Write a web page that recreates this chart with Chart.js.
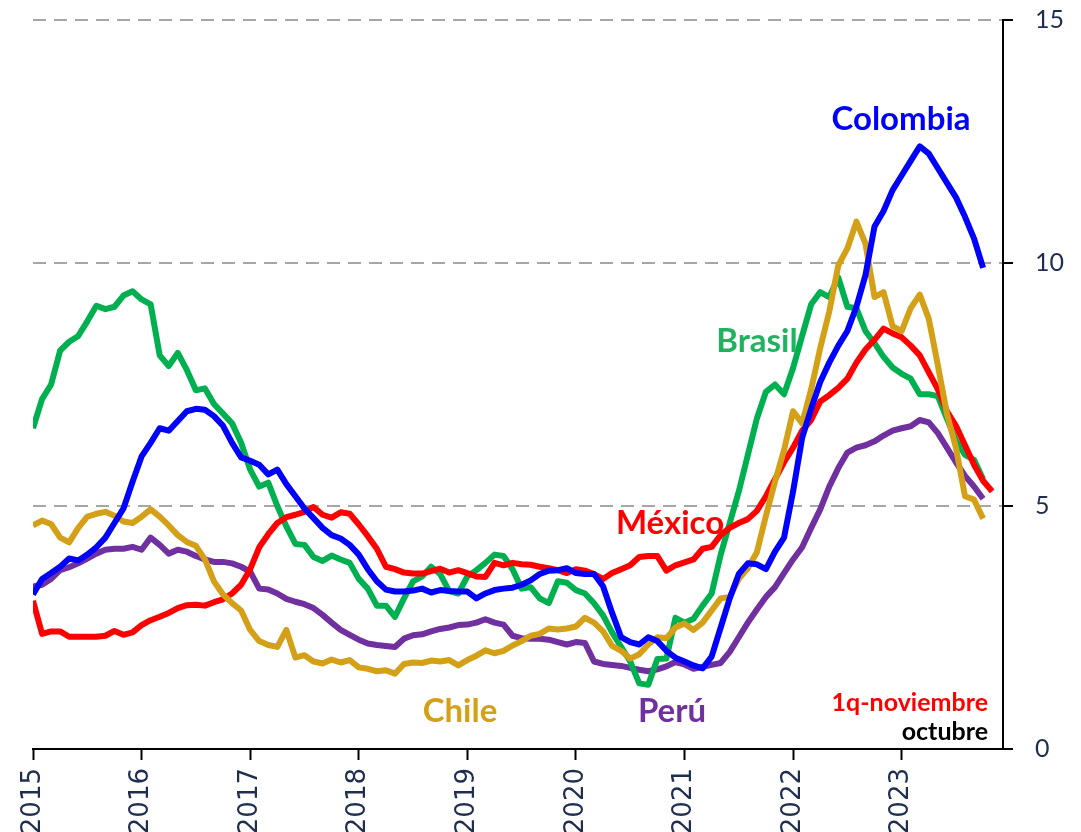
<!DOCTYPE html>
<html>
<head>
<meta charset="utf-8">
<script src="https://cdn.jsdelivr.net/npm/chart.js@4.4.0/dist/chart.umd.min.js"></script>
<style>
  body { margin: 0; background: #fff; }
  #wrap { width: 1081px; height: 832px; position: relative; overflow: hidden; }
</style>
</head>
<body>
<div id="wrap"><canvas id="chart"></canvas></div>
<script>
// monthly values, Jan 2015 onwards (index 0 = Jan 2015)
const colombia = [3.18,3.5,3.62,3.75,3.92,3.88,4.0,4.15,4.35,4.65,
  4.95,5.5,6.02,6.3,6.6,6.55,6.75,6.95,7.0,6.98,
  6.85,6.65,6.3,6.0,5.93,5.85,5.65,5.75,5.45,5.2,
  4.95,4.75,4.55,4.4,4.33,4.2,4.0,3.7,3.45,3.28,
  3.24,3.24,3.26,3.3,3.22,3.27,3.25,3.24,3.24,3.1,
  3.2,3.27,3.3,3.32,3.38,3.47,3.6,3.67,3.68,3.72,
  3.62,3.6,3.6,3.35,2.8,2.3,2.2,2.15,2.3,2.22,
  2.02,1.88,1.8,1.72,1.66,1.9,2.5,3.1,3.6,3.82,
  3.8,3.7,4.06,4.35,5.3,6.4,7.0,7.55,7.95,8.3,
  8.6,9.1,9.75,10.75,11.07,11.5,11.8,12.1,12.4,12.25,
  11.95,11.65,11.35,10.95,10.5,9.9];

const brasil = [6.6,7.2,7.5,8.2,8.38,8.5,8.8,9.12,9.05,9.1,
  9.33,9.42,9.25,9.15,8.1,7.88,8.15,7.8,7.38,7.42,
  7.1,6.9,6.7,6.3,5.75,5.4,5.48,5.0,4.58,4.22,
  4.2,3.95,3.87,3.98,3.9,3.83,3.5,3.3,2.95,2.95,
  2.72,3.1,3.45,3.55,3.75,3.6,3.25,3.2,3.55,3.68,
  3.83,4.0,3.97,3.7,3.3,3.33,3.1,3.0,3.45,3.42,
  3.27,3.2,3.0,2.75,2.4,2.1,1.8,1.35,1.32,1.85,
  1.86,2.7,2.6,2.68,2.95,3.2,4.0,4.65,5.3,6.05,
  6.8,7.35,7.5,7.3,7.84,8.5,9.15,9.4,9.3,9.7,
  9.1,9.07,8.6,8.35,8.07,7.85,7.72,7.62,7.3,7.3,
  7.26,6.8,6.35,6.05,5.95,5.55];

// México runs one more month (1q-noviembre)
const mexico = [3.05,2.37,2.42,2.42,2.31,2.31,2.31,2.31,2.33,2.43,
  2.35,2.4,2.55,2.65,2.72,2.8,2.9,2.96,2.97,2.95,
  3.02,3.08,3.2,3.38,3.7,4.15,4.42,4.65,4.77,4.82,
  4.88,4.98,4.82,4.76,4.87,4.84,4.62,4.38,4.12,3.75,
  3.7,3.63,3.61,3.61,3.66,3.71,3.63,3.68,3.62,3.55,
  3.54,3.83,3.78,3.83,3.8,3.79,3.75,3.72,3.68,3.62,
  3.7,3.67,3.6,3.5,3.62,3.7,3.78,3.95,3.97,3.97,
  3.67,3.78,3.84,3.9,4.12,4.16,4.4,4.55,4.65,4.73,
  4.9,5.2,5.55,5.9,6.2,6.55,6.77,7.15,7.28,7.43,
  7.62,7.95,8.22,8.42,8.65,8.55,8.47,8.3,8.1,7.75,
  7.4,6.95,6.65,6.25,5.85,5.52,5.3];

const chile = [4.6,4.7,4.63,4.35,4.25,4.55,4.78,4.84,4.88,4.8,
  4.68,4.65,4.78,4.93,4.78,4.6,4.4,4.26,4.18,3.9,
  3.45,3.18,3.0,2.85,2.45,2.22,2.14,2.1,2.45,1.88,
  1.93,1.8,1.76,1.84,1.78,1.83,1.68,1.65,1.6,1.62,
  1.55,1.75,1.78,1.77,1.82,1.8,1.83,1.72,1.83,1.92,
  2.03,1.97,2.02,2.13,2.22,2.33,2.37,2.48,2.46,2.48,
  2.52,2.7,2.6,2.42,2.12,2.02,1.86,1.95,2.15,2.3,
  2.28,2.5,2.58,2.45,2.6,2.85,3.1,3.13,3.5,3.72,
  4.05,4.8,5.5,6.15,6.95,6.7,7.4,8.25,9.0,9.95,
  10.3,10.85,10.4,9.3,9.4,8.7,8.6,9.07,9.35,8.85,
  7.9,6.9,6.2,5.2,5.13,4.74];

const peru = [3.34,3.38,3.5,3.68,3.74,3.82,3.92,4.02,4.1,4.12,
  4.12,4.16,4.1,4.35,4.2,4.02,4.1,4.06,3.97,3.9,
  3.85,3.85,3.82,3.75,3.65,3.3,3.28,3.2,3.09,3.03,
  2.98,2.9,2.76,2.6,2.45,2.35,2.25,2.17,2.14,2.12,
  2.1,2.27,2.34,2.36,2.42,2.47,2.5,2.55,2.56,2.6,
  2.67,2.6,2.56,2.33,2.28,2.27,2.27,2.25,2.2,2.15,
  2.2,2.18,1.8,1.75,1.73,1.71,1.67,1.63,1.6,1.64,
  1.7,1.79,1.74,1.65,1.69,1.73,1.77,2.0,2.3,2.6,
  2.87,3.13,3.33,3.62,3.9,4.15,4.55,4.93,5.4,5.78,
  6.1,6.2,6.25,6.33,6.45,6.55,6.6,6.64,6.77,6.72,
  6.5,6.2,5.9,5.62,5.4,5.15];

const startYear = 2015;
const yearTicks = [0, 12, 24, 36, 48, 60, 72, 84, 96];
const yTicks = [0, 5, 10, 15];

const navy = '#1F2D4E';

function toPoints(values) {
  return values.map((v, i) => ({ x: i, y: v }));
}

function line(label, values, color) {
  return {
    label: label,
    data: toPoints(values),
    borderColor: color,
    backgroundColor: color,
    borderWidth: 6,
    pointRadius: 0,
    tension: 0,
    borderJoinStyle: 'round',
    fill: false
  };
}

// series names written inside the plot
const seriesLabels = {
  id: 'seriesLabels',
  afterDatasetsDraw(chart) {
    const ctx = chart.ctx;
    const items = [
      { text: 'Colombia', x: 901, y: 130, color: '#0000FF', size: 33, align: 'center' },
      { text: 'Brasil', x: 757, y: 352, color: '#1FB35F', size: 33, align: 'center' },
      { text: 'México', x: 670, y: 534, color: '#FF0000', size: 33, align: 'center' },
      { text: 'Chile', x: 460, y: 722, color: '#D4A017', size: 33, align: 'center' },
      { text: 'Perú', x: 672, y: 722, color: '#7030A0', size: 33, align: 'center' },
      { text: '1q-noviembre', x: 988, y: 711, color: '#FF0000', size: 25, align: 'right' },
      { text: 'octubre', x: 988, y: 740, color: '#000000', size: 25, align: 'right' }
    ];
    ctx.save();
    items.forEach((it) => {
      ctx.font = 'bold ' + it.size + 'px Lato';
      ctx.fillStyle = it.color;
      ctx.textAlign = it.align;
      ctx.textBaseline = 'alphabetic';
      ctx.fillText(it.text, it.x, it.y);
    });
    ctx.restore();
  }
};

new Chart(document.getElementById('chart'), {
  type: 'line',
  data: {
    datasets: [
      line('Colombia', colombia, '#0000FF'),
      line('Chile', chile, '#D4A017'),
      line('México', mexico, '#FF0000'),
      line('Brasil', brasil, '#00B050'),
      line('Perú', peru, '#7030A0')
    ]
  },
  options: {
    responsive: true,
    maintainAspectRatio: false,
    devicePixelRatio: 1,
    animation: false,
    layout: { padding: { left: 33, top: 20, right: 0, bottom: 0 } },
    plugins: {
      legend: { display: false },
      tooltip: { enabled: false }
    },
    scales: {
      x: {
        type: 'linear',
        min: 0,
        max: 107.2,
        afterBuildTicks: (axis) => { axis.ticks = yearTicks.map(v => ({ value: v })); },
        afterFit: (axis) => {
          axis.height = 83;
          axis.paddingLeft = 0;
          axis.paddingRight = 0;
        },
        grid: { drawOnChartArea: false, drawTicks: true, tickLength: 11, tickColor: '#000', tickWidth: 2 },
        border: { display: true, color: '#000', width: 2 },
        ticks: {
          autoSkip: false,
          maxRotation: 90,
          minRotation: 90,
          padding: 8,
          color: navy,
          font: { family: 'DejaVu Sans', size: 26 },
          callback: (v) => String(startYear + v / 12)
        }
      },
      y: {
        position: 'right',
        min: 0,
        max: 15,
        afterBuildTicks: (axis) => { axis.ticks = yTicks.map(v => ({ value: v })); },
        afterFit: (axis) => {
          axis.width = 78;
          axis.paddingTop = 0;
          axis.paddingBottom = 0;
        },
        grid: {
          color: (c) => (c.tick && c.tick.value === 0 ? 'rgba(0,0,0,0)' : '#A6A6A6'),
          lineWidth: 2,
          tickLength: 10,
          tickColor: '#000',
          tickWidth: 2
        },
        border: { display: true, color: '#000', width: 2, dash: [13, 8] },
        ticks: {
          padding: 22,
          color: navy,
          font: { family: 'Lato', size: 25 }
        }
      }
    }
  },
  plugins: [seriesLabels]
});
</script>
</body>
</html>
